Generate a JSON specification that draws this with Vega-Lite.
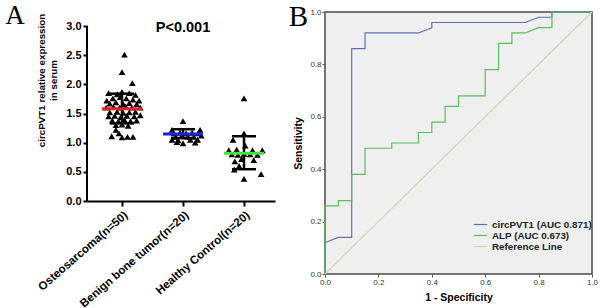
{
 "$schema": "https://vega.github.io/schema/vega-lite/v6.json",
 "padding": {"left": 5, "top": 2, "right": 0, "bottom": 0},
 "background": "white",
 "config": {"font": "Liberation Sans", "concat": {"spacing": 12}, "axis": {"grid": false}},
 "resolve": {"scale": {"color": "independent"}, "legend": {"color": "independent"}},
 "datasets": {
  "pts": [
   {"x":1.04,"v":2.51},{"x":1.0,"v":2.21},{"x":1.17,"v":2.02},
   {"x":0.78,"v":1.85},{"x":0.92,"v":1.83},{"x":1.0,"v":1.87},{"x":1.12,"v":1.85},{"x":1.22,"v":1.82},
   {"x":0.75,"v":1.72},{"x":0.85,"v":1.76},{"x":0.97,"v":1.78},{"x":1.07,"v":1.76},{"x":1.18,"v":1.74},{"x":1.28,"v":1.72},
   {"x":0.8,"v":1.67},{"x":0.9,"v":1.69},{"x":1.02,"v":1.66},{"x":1.12,"v":1.68},{"x":1.24,"v":1.66},
   {"x":0.74,"v":1.6},{"x":0.86,"v":1.61},{"x":0.96,"v":1.6},{"x":1.06,"v":1.62},{"x":1.16,"v":1.6},{"x":1.3,"v":1.6},
   {"x":0.8,"v":1.52},{"x":0.92,"v":1.53},{"x":1.02,"v":1.51},{"x":1.12,"v":1.52},{"x":1.22,"v":1.53},
   {"x":0.78,"v":1.45},{"x":0.88,"v":1.46},{"x":0.98,"v":1.44},{"x":1.08,"v":1.46},{"x":1.2,"v":1.45},{"x":1.3,"v":1.47},
   {"x":0.84,"v":1.38},{"x":0.94,"v":1.37},{"x":1.04,"v":1.39},{"x":1.14,"v":1.37},{"x":1.24,"v":1.38},
   {"x":0.9,"v":1.3},{"x":1.0,"v":1.31},{"x":1.1,"v":1.29},
   {"x":0.9,"v":1.22},{"x":0.95,"v":1.16},
   {"x":0.83,"v":1.11},{"x":1.0,"v":1.09},{"x":1.09,"v":1.1},{"x":1.18,"v":1.1},
   {"x":2.0,"v":1.37},{"x":1.82,"v":1.22},{"x":2.28,"v":1.22},
   {"x":1.85,"v":1.16},{"x":1.95,"v":1.17},{"x":2.05,"v":1.16},{"x":2.15,"v":1.17},{"x":2.25,"v":1.16},
   {"x":1.88,"v":1.1},{"x":1.98,"v":1.11},{"x":2.08,"v":1.1},{"x":2.18,"v":1.1},{"x":2.3,"v":1.12},
   {"x":1.82,"v":1.05},{"x":1.92,"v":1.04},{"x":2.12,"v":1.05},{"x":2.24,"v":1.05},
   {"x":1.9,"v":1.01},{"x":2.0,"v":0.99},{"x":2.2,"v":1.0},
   {"x":3.0,"v":1.76},{"x":3.0,"v":1.16},{"x":2.82,"v":1.05},{"x":3.02,"v":0.95},
   {"x":2.75,"v":0.87},{"x":2.88,"v":0.88},{"x":3.14,"v":0.87},{"x":3.3,"v":0.87},
   {"x":2.8,"v":0.8},{"x":2.9,"v":0.79},{"x":3.0,"v":0.81},{"x":3.1,"v":0.8},{"x":3.22,"v":0.79},
   {"x":2.96,"v":0.72},{"x":2.85,"v":0.68},{"x":3.16,"v":0.7},
   {"x":3.28,"v":0.46},{"x":3.0,"v":0.38},{"x":2.84,"v":0.54},{"x":2.92,"v":0.6}
  ],
  "summ": [
   {"x":1,"g":"Osteosarcoma","v":1.58,"lo":1.33,"hi":1.84},
   {"x":2,"g":"Benign bone tumor","v":1.15,"lo":1.08,"hi":1.23},
   {"x":3,"g":"Healthy Control","v":0.82,"lo":0.545,"hi":1.11}
  ],
  "roc": [
   {"s":"circPVT1 (AUC 0.871)","o":0,"fpr":0,"tpr":0},
   {"s":"circPVT1 (AUC 0.871)","o":1,"fpr":0,"tpr":0.12},
   {"s":"circPVT1 (AUC 0.871)","o":2,"fpr":0.05,"tpr":0.14},
   {"s":"circPVT1 (AUC 0.871)","o":3,"fpr":0.1,"tpr":0.14},
   {"s":"circPVT1 (AUC 0.871)","o":4,"fpr":0.1,"tpr":0.86},
   {"s":"circPVT1 (AUC 0.871)","o":5,"fpr":0.15,"tpr":0.86},
   {"s":"circPVT1 (AUC 0.871)","o":6,"fpr":0.15,"tpr":0.92},
   {"s":"circPVT1 (AUC 0.871)","o":7,"fpr":0.35,"tpr":0.92},
   {"s":"circPVT1 (AUC 0.871)","o":8,"fpr":0.4,"tpr":0.94},
   {"s":"circPVT1 (AUC 0.871)","o":9,"fpr":0.4,"tpr":0.96},
   {"s":"circPVT1 (AUC 0.871)","o":10,"fpr":0.75,"tpr":0.96},
   {"s":"circPVT1 (AUC 0.871)","o":11,"fpr":0.8,"tpr":0.98},
   {"s":"circPVT1 (AUC 0.871)","o":12,"fpr":0.85,"tpr":0.98},
   {"s":"circPVT1 (AUC 0.871)","o":13,"fpr":0.85,"tpr":1},
   {"s":"circPVT1 (AUC 0.871)","o":14,"fpr":1,"tpr":1},
   {"s":"ALP (AUC 0.673)","o":0,"fpr":0,"tpr":0},
   {"s":"ALP (AUC 0.673)","o":1,"fpr":0,"tpr":0.26},
   {"s":"ALP (AUC 0.673)","o":2,"fpr":0.05,"tpr":0.26},
   {"s":"ALP (AUC 0.673)","o":3,"fpr":0.05,"tpr":0.28},
   {"s":"ALP (AUC 0.673)","o":4,"fpr":0.1,"tpr":0.28},
   {"s":"ALP (AUC 0.673)","o":5,"fpr":0.1,"tpr":0.38},
   {"s":"ALP (AUC 0.673)","o":6,"fpr":0.15,"tpr":0.38},
   {"s":"ALP (AUC 0.673)","o":7,"fpr":0.15,"tpr":0.48},
   {"s":"ALP (AUC 0.673)","o":8,"fpr":0.25,"tpr":0.48},
   {"s":"ALP (AUC 0.673)","o":9,"fpr":0.25,"tpr":0.5},
   {"s":"ALP (AUC 0.673)","o":10,"fpr":0.35,"tpr":0.5},
   {"s":"ALP (AUC 0.673)","o":11,"fpr":0.35,"tpr":0.54},
   {"s":"ALP (AUC 0.673)","o":12,"fpr":0.4,"tpr":0.54},
   {"s":"ALP (AUC 0.673)","o":13,"fpr":0.4,"tpr":0.58},
   {"s":"ALP (AUC 0.673)","o":14,"fpr":0.45,"tpr":0.58},
   {"s":"ALP (AUC 0.673)","o":15,"fpr":0.45,"tpr":0.64},
   {"s":"ALP (AUC 0.673)","o":16,"fpr":0.5,"tpr":0.64},
   {"s":"ALP (AUC 0.673)","o":17,"fpr":0.5,"tpr":0.68},
   {"s":"ALP (AUC 0.673)","o":18,"fpr":0.6,"tpr":0.68},
   {"s":"ALP (AUC 0.673)","o":19,"fpr":0.6,"tpr":0.78},
   {"s":"ALP (AUC 0.673)","o":20,"fpr":0.65,"tpr":0.78},
   {"s":"ALP (AUC 0.673)","o":21,"fpr":0.65,"tpr":0.88},
   {"s":"ALP (AUC 0.673)","o":22,"fpr":0.7,"tpr":0.88},
   {"s":"ALP (AUC 0.673)","o":23,"fpr":0.7,"tpr":0.92},
   {"s":"ALP (AUC 0.673)","o":24,"fpr":0.75,"tpr":0.92},
   {"s":"ALP (AUC 0.673)","o":25,"fpr":0.8,"tpr":0.94},
   {"s":"ALP (AUC 0.673)","o":26,"fpr":0.85,"tpr":0.94},
   {"s":"ALP (AUC 0.673)","o":27,"fpr":0.85,"tpr":1},
   {"s":"ALP (AUC 0.673)","o":28,"fpr":1,"tpr":1},
   {"s":"Reference Line","o":0,"fpr":0,"tpr":0},
   {"s":"Reference Line","o":1,"fpr":1,"tpr":1}
  ]
 },
 "hconcat": [
  {
   "width": 188,
   "height": 189,
   "view": {"stroke": null},
   "layer": [
    {"data": {"name": "pts"},
     "mark": {"type": "point", "shape": "triangle-up", "filled": true, "color": "black", "size": 45, "opacity": 1},
     "encoding": {
      "x": {"field": "x", "type": "quantitative", "scale": {"domain": [0.426, 3.508], "nice": false, "zero": false},
       "axis": {"values": [1, 2, 3], "title": null, "labelExpr": "datum.value == 1 ? 'Osteosarcoma(n=50)' : datum.value == 2 ? 'Benign bone tumor(n=20)' : 'Healthy Control(n=20)'", "labelAngle": -41, "labelFontSize": 11.5, "labelFontWeight": "bold", "labelColor": "black", "labelFlush": false, "labelOverlap": false, "labelBound": false, "labelPadding": 3, "domainColor": "black", "domainWidth": 2, "tickColor": "black", "tickWidth": 2, "tickSize": 5}},
      "y": {"field": "v", "type": "quantitative", "scale": {"domain": [0, 3.24], "nice": false},
       "axis": {"values": [0, 0.5, 1, 1.5, 2, 2.5, 3], "format": ".1f", "title": ["circPVT1 relative expression", "in serum"], "titleY": 68, "titleFontSize": 9.8, "titleFontWeight": "bold", "titleColor": "black", "titlePadding": 7, "titleLineHeight": 12, "labelFontSize": 11, "labelFontWeight": "bold", "labelColor": "black", "labelPadding": 2, "labelOverlap": false, "labelFlush": false, "domain": false, "tickColor": "black", "tickWidth": 2, "tickSize": 4}}
     }},
    {"data": {"values": [{}]},
     "mark": {"type": "rule", "color": "black", "strokeWidth": 2},
     "encoding": {
      "x": {"datum": 0.426, "type": "quantitative", "scale": {"domain": [0.426, 3.508], "nice": false, "zero": false},
       "axis": {"values": [1, 2, 3], "title": null, "labelExpr": "datum.value == 1 ? 'Osteosarcoma(n=50)' : datum.value == 2 ? 'Benign bone tumor(n=20)' : 'Healthy Control(n=20)'", "labelAngle": -41, "labelFontSize": 11.5, "labelFontWeight": "bold", "labelColor": "black", "labelFlush": false, "labelOverlap": false, "labelBound": false, "labelPadding": 3, "domainColor": "black", "domainWidth": 2, "tickColor": "black", "tickWidth": 2, "tickSize": 5}},
      "y": {"datum": 0, "type": "quantitative", "scale": {"domain": [0, 3.24], "nice": false},
       "axis": {"values": [0, 0.5, 1, 1.5, 2, 2.5, 3], "format": ".1f", "title": ["circPVT1 relative expression", "in serum"], "titleY": 68, "titleFontSize": 9.8, "titleFontWeight": "bold", "titleColor": "black", "titlePadding": 7, "titleLineHeight": 12, "labelFontSize": 11, "labelFontWeight": "bold", "labelColor": "black", "labelPadding": 2, "labelOverlap": false, "labelFlush": false, "domain": false, "tickColor": "black", "tickWidth": 2, "tickSize": 4}},
      "y2": {"datum": 3}
     }},
    {"data": {"name": "summ"},
     "mark": {"type": "rule", "color": "black", "strokeWidth": 2.5},
     "encoding": {
      "x": {"field": "x", "type": "quantitative", "scale": {"domain": [0.426, 3.508], "nice": false, "zero": false},
       "axis": {"values": [1, 2, 3], "title": null, "labelExpr": "datum.value == 1 ? 'Osteosarcoma(n=50)' : datum.value == 2 ? 'Benign bone tumor(n=20)' : 'Healthy Control(n=20)'", "labelAngle": -41, "labelFontSize": 11.5, "labelFontWeight": "bold", "labelColor": "black", "labelFlush": false, "labelOverlap": false, "labelBound": false, "labelPadding": 3, "domainColor": "black", "domainWidth": 2, "tickColor": "black", "tickWidth": 2, "tickSize": 5}},
      "y": {"field": "lo", "type": "quantitative", "scale": {"domain": [0, 3.24], "nice": false},
       "axis": {"values": [0, 0.5, 1, 1.5, 2, 2.5, 3], "format": ".1f", "title": ["circPVT1 relative expression", "in serum"], "titleY": 68, "titleFontSize": 9.8, "titleFontWeight": "bold", "titleColor": "black", "titlePadding": 7, "titleLineHeight": 12, "labelFontSize": 11, "labelFontWeight": "bold", "labelColor": "black", "labelPadding": 2, "labelOverlap": false, "labelFlush": false, "domain": false, "tickColor": "black", "tickWidth": 2, "tickSize": 4}},
      "y2": {"field": "hi"}
     }},
    {"data": {"name": "summ"},
     "transform": [{"fold": ["lo", "hi"], "as": ["which", "bar"]}],
     "mark": {"type": "tick", "orient": "horizontal", "color": "black", "size": 24, "thickness": 2.5, "opacity": 1},
     "encoding": {
      "x": {"field": "x", "type": "quantitative", "scale": {"domain": [0.426, 3.508], "nice": false, "zero": false},
       "axis": {"values": [1, 2, 3], "title": null, "labelExpr": "datum.value == 1 ? 'Osteosarcoma(n=50)' : datum.value == 2 ? 'Benign bone tumor(n=20)' : 'Healthy Control(n=20)'", "labelAngle": -41, "labelFontSize": 11.5, "labelFontWeight": "bold", "labelColor": "black", "labelFlush": false, "labelOverlap": false, "labelBound": false, "labelPadding": 3, "domainColor": "black", "domainWidth": 2, "tickColor": "black", "tickWidth": 2, "tickSize": 5}},
      "y": {"field": "bar", "type": "quantitative", "scale": {"domain": [0, 3.24], "nice": false},
       "axis": {"values": [0, 0.5, 1, 1.5, 2, 2.5, 3], "format": ".1f", "title": ["circPVT1 relative expression", "in serum"], "titleY": 68, "titleFontSize": 9.8, "titleFontWeight": "bold", "titleColor": "black", "titlePadding": 7, "titleLineHeight": 12, "labelFontSize": 11, "labelFontWeight": "bold", "labelColor": "black", "labelPadding": 2, "labelOverlap": false, "labelFlush": false, "domain": false, "tickColor": "black", "tickWidth": 2, "tickSize": 4}}
     }},
    {"data": {"name": "summ"},
     "mark": {"type": "tick", "orient": "horizontal", "size": 40, "thickness": 3, "opacity": 1},
     "encoding": {
      "x": {"field": "x", "type": "quantitative", "scale": {"domain": [0.426, 3.508], "nice": false, "zero": false},
       "axis": {"values": [1, 2, 3], "title": null, "labelExpr": "datum.value == 1 ? 'Osteosarcoma(n=50)' : datum.value == 2 ? 'Benign bone tumor(n=20)' : 'Healthy Control(n=20)'", "labelAngle": -41, "labelFontSize": 11.5, "labelFontWeight": "bold", "labelColor": "black", "labelFlush": false, "labelOverlap": false, "labelBound": false, "labelPadding": 3, "domainColor": "black", "domainWidth": 2, "tickColor": "black", "tickWidth": 2, "tickSize": 5}},
      "y": {"field": "v", "type": "quantitative", "scale": {"domain": [0, 3.24], "nice": false},
       "axis": {"values": [0, 0.5, 1, 1.5, 2, 2.5, 3], "format": ".1f", "title": ["circPVT1 relative expression", "in serum"], "titleY": 68, "titleFontSize": 9.8, "titleFontWeight": "bold", "titleColor": "black", "titlePadding": 7, "titleLineHeight": 12, "labelFontSize": 11, "labelFontWeight": "bold", "labelColor": "black", "labelPadding": 2, "labelOverlap": false, "labelFlush": false, "domain": false, "tickColor": "black", "tickWidth": 2, "tickSize": 4}},
      "color": {"field": "g", "type": "nominal", "legend": null,
       "scale": {"domain": ["Osteosarcoma", "Benign bone tumor", "Healthy Control"], "range": ["#e8202a", "#2020e0", "#40e040"]}}
     }},
    {"data": {"values": [{}]},
     "mark": {"type": "text", "text": "P<0.001", "fontSize": 14.5, "fontWeight": "bold", "color": "black", "baseline": "middle"},
     "encoding": {
      "x": {"datum": 2, "type": "quantitative", "scale": {"domain": [0.426, 3.508], "nice": false, "zero": false},
       "axis": {"values": [1, 2, 3], "title": null, "labelExpr": "datum.value == 1 ? 'Osteosarcoma(n=50)' : datum.value == 2 ? 'Benign bone tumor(n=20)' : 'Healthy Control(n=20)'", "labelAngle": -41, "labelFontSize": 11.5, "labelFontWeight": "bold", "labelColor": "black", "labelFlush": false, "labelOverlap": false, "labelBound": false, "labelPadding": 3, "domainColor": "black", "domainWidth": 2, "tickColor": "black", "tickWidth": 2, "tickSize": 5}},
      "y": {"datum": 2.97, "type": "quantitative", "scale": {"domain": [0, 3.24], "nice": false},
       "axis": {"values": [0, 0.5, 1, 1.5, 2, 2.5, 3], "format": ".1f", "title": ["circPVT1 relative expression", "in serum"], "titleY": 68, "titleFontSize": 9.8, "titleFontWeight": "bold", "titleColor": "black", "titlePadding": 7, "titleLineHeight": 12, "labelFontSize": 11, "labelFontWeight": "bold", "labelColor": "black", "labelPadding": 2, "labelOverlap": false, "labelFlush": false, "domain": false, "tickColor": "black", "tickWidth": 2, "tickSize": 4}}
     }},
    {"data": {"values": [{}]},
     "mark": {"type": "text", "text": "A", "font": "Liberation Serif", "fontSize": 27, "color": "black", "baseline": "alphabetic"},
     "encoding": {
      "x": {"datum": -0.754, "type": "quantitative", "scale": {"domain": [0.426, 3.508], "nice": false, "zero": false},
       "axis": {"values": [1, 2, 3], "title": null, "labelExpr": "datum.value == 1 ? 'Osteosarcoma(n=50)' : datum.value == 2 ? 'Benign bone tumor(n=20)' : 'Healthy Control(n=20)'", "labelAngle": -41, "labelFontSize": 11.5, "labelFontWeight": "bold", "labelColor": "black", "labelFlush": false, "labelOverlap": false, "labelBound": false, "labelPadding": 3, "domainColor": "black", "domainWidth": 2, "tickColor": "black", "tickWidth": 2, "tickSize": 5}},
      "y": {"datum": 3.034, "type": "quantitative", "scale": {"domain": [0, 3.24], "nice": false},
       "axis": {"values": [0, 0.5, 1, 1.5, 2, 2.5, 3], "format": ".1f", "title": ["circPVT1 relative expression", "in serum"], "titleY": 68, "titleFontSize": 9.8, "titleFontWeight": "bold", "titleColor": "black", "titlePadding": 7, "titleLineHeight": 12, "labelFontSize": 11, "labelFontWeight": "bold", "labelColor": "black", "labelPadding": 2, "labelOverlap": false, "labelFlush": false, "domain": false, "tickColor": "black", "tickWidth": 2, "tickSize": 4}}
     }}
   ]
  },
  {
   "width": 267,
   "height": 262,
   "view": {"fill": "#efefef", "stroke": "#4a4a4a", "strokeWidth": 1.5},
   "layer": [
    {"data": {"name": "roc"},
     "mark": {"type": "line", "strokeWidth": 1.2},
     "encoding": {
      "x": {"field": "fpr", "type": "quantitative", "scale": {"domain": [0, 1], "nice": false},
       "axis": {"values": [0, 0.2, 0.4, 0.6, 0.8, 1], "format": ".1f", "title": "1 - Specificity", "titleFontSize": 10.5, "titleFontWeight": "bold", "titleColor": "black", "titlePadding": 6, "labelFontSize": 8, "labelColor": "#333", "labelFlush": false, "labelOverlap": false, "labelPadding": 1, "domain": false, "tickColor": "#555", "tickSize": 3}},
      "y": {"field": "tpr", "type": "quantitative", "scale": {"domain": [0, 1], "nice": false},
       "axis": {"values": [0, 0.2, 0.4, 0.6, 0.8, 1], "format": ".1f", "title": "Sensitivity", "titleFontSize": 10.5, "titleFontWeight": "bold", "titleColor": "black", "titlePadding": 6, "labelFontSize": 8, "labelColor": "#333", "labelFlush": false, "labelOverlap": false, "labelPadding": 1, "domain": false, "tickColor": "#555", "tickSize": 3}},
      "color": {"field": "s", "type": "nominal",
       "scale": {"domain": ["circPVT1 (AUC 0.871)", "ALP (AUC 0.673)", "Reference Line"], "range": ["#5f6fb6", "#5dbd60", "#d8d4a8"]},
       "legend": {"orient": "none", "legendX": 150, "legendY": 207, "title": null, "symbolType": "M-1.5,0L1.5,0", "symbolSize": 81, "symbolStrokeWidth": 1.2, "labelFontSize": 9.8, "labelFontWeight": "bold", "labelColor": "#222", "rowPadding": 0, "labelOffset": 6}},
      "order": {"field": "o", "type": "quantitative"}
     }},
    {"data": {"values": [{}]},
     "mark": {"type": "text", "text": "B", "font": "Liberation Serif", "fontSize": 29, "color": "black", "baseline": "alphabetic"},
     "encoding": {
      "x": {"datum": -0.1, "type": "quantitative", "scale": {"domain": [0, 1], "nice": false},
       "axis": {"values": [0, 0.2, 0.4, 0.6, 0.8, 1], "format": ".1f", "title": "1 - Specificity", "titleFontSize": 10.5, "titleFontWeight": "bold", "titleColor": "black", "titlePadding": 6, "labelFontSize": 8, "labelColor": "#333", "labelFlush": false, "labelOverlap": false, "labelPadding": 1, "domain": false, "tickColor": "#555", "tickSize": 3}},
      "y": {"datum": 0.9466, "type": "quantitative", "scale": {"domain": [0, 1], "nice": false},
       "axis": {"values": [0, 0.2, 0.4, 0.6, 0.8, 1], "format": ".1f", "title": "Sensitivity", "titleFontSize": 10.5, "titleFontWeight": "bold", "titleColor": "black", "titlePadding": 6, "labelFontSize": 8, "labelColor": "#333", "labelFlush": false, "labelOverlap": false, "labelPadding": 1, "domain": false, "tickColor": "#555", "tickSize": 3}}
     }}
   ]
  }
 ]
}
